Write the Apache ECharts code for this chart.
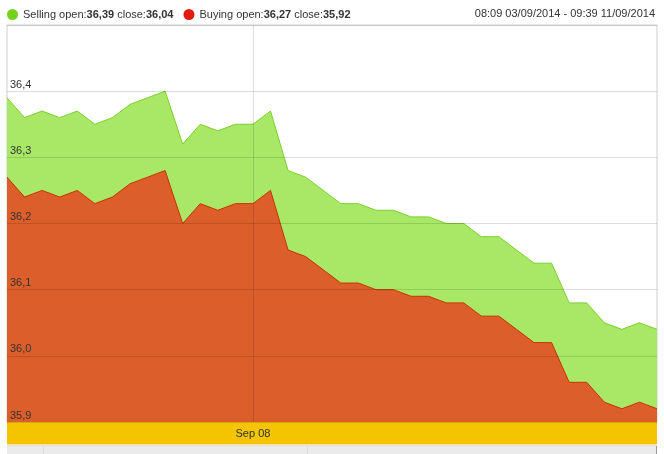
<!DOCTYPE html>
<html>
<head>
<meta charset="utf-8">
<script src="https://cdn.jsdelivr.net/npm/echarts@6/dist/echarts.min.js"></script>
<style>html,body{margin:0;padding:0;background:#fff}#c{width:664px;height:454px}</style>
</head>
<body>
<div id="c"></div>
<script>
var categories = [
 '03/09 08:09','03/09 10:00','03/09 12:00','03/09 14:00',
 '04/09 08:00','04/09 10:00','04/09 12:00','04/09 14:00','04/09 16:00',
 '05/09 08:00','05/09 10:00','05/09 12:00','05/09 14:00','05/09 16:00',
 'Sep 08','08/09 10:00','08/09 12:00','08/09 14:00','08/09 16:00','08/09 18:00',
 '09/09 08:00','09/09 10:00','09/09 12:00','09/09 14:00','09/09 16:00','09/09 18:00',
 '10/09 08:00','10/09 10:00','10/09 12:00','10/09 14:00','10/09 16:00','10/09 18:00',
 '11/09 08:00','11/09 08:30','11/09 08:45','11/09 09:00','11/09 09:20','11/09 09:39'
];
var sellingValues = [36.39,36.36,36.37,36.36,36.37,36.35,36.36,36.38,36.39,36.40,
 36.32,36.35,36.34,36.35,36.35,36.37,36.28,36.27,36.25,36.23,
 36.23,36.22,36.22,36.21,36.21,36.20,36.20,36.18,36.18,36.16,
 36.14,36.14,36.08,36.08,36.05,36.04,36.05,36.04];
var buyingValues = [36.27,36.24,36.25,36.24,36.25,36.23,36.24,36.26,36.27,36.28,
 36.20,36.23,36.22,36.23,36.23,36.25,36.16,36.15,36.13,36.11,
 36.11,36.10,36.10,36.09,36.09,36.08,36.08,36.06,36.06,36.04,
 36.02,36.02,35.96,35.96,35.93,35.92,35.93,35.92];
var yTicks = {min: 35.9, max: 36.5, interval: 0.1};
var xTickLabel = 'Sep 08';
var rangeText = '08:09 03/09/2014 - 09:39 11/09/2014';

function fmt(v){ return v.toFixed(2).replace('.', ','); }
var info = {
  'Selling': {open: sellingValues[0], close: sellingValues[sellingValues.length-1]},
  'Buying': {open: buyingValues[0], close: buyingValues[buyingValues.length-1]}
};
function showTick(i, v){ return v === xTickLabel; }

var chart = echarts.init(document.getElementById('c'), null, {renderer: 'canvas'});
var FONT = '"Liberation Sans", Arial, sans-serif';
chart.setOption({
  animation: false,
  textStyle: {fontFamily: FONT},
  title: {
    text: rangeText, right: 4, top: 3,
    textStyle: {fontSize: 11, fontWeight: 'normal', color: '#333', fontFamily: FONT}
  },
  legend: {
    left: 2, top: 4, itemGap: 10, itemWidth: 11, itemHeight: 11,
    icon: 'circle',
    data: ['Selling', 'Buying'],
    formatter: function(name){
      return name + ' open:{b|' + fmt(info[name].open) + '} close:{b|' + fmt(info[name].close) + '}';
    },
    textStyle: {
      fontSize: 11, color: '#333', fontFamily: FONT,
      rich: {b: {fontSize: 11, fontWeight: 'bold', color: '#333', fontFamily: FONT}}
    }
  },
  grid: {left: 7, right: 7, top: 25, bottom: 32, show: true, borderColor: '#cfcfcf', borderWidth: 1, backgroundColor: 'transparent'},
  xAxis: {
    type: 'category', data: categories, boundaryGap: false, z: 10,
    axisLine: {show: false}, axisTick: {show: false},
    axisLabel: {interval: showTick, color: '#333', fontSize: 11, margin: 6, fontFamily: FONT},
    splitLine: {show: true, interval: showTick, lineStyle: {color: 'rgba(0,0,0,0.13)', width: 1}}
  },
  yAxis: {
    type: 'value', min: yTicks.min, max: yTicks.max, interval: yTicks.interval, z: 10,
    axisLine: {show: false}, axisTick: {show: false},
    axisLabel: {
      inside: true, margin: 3, showMaxLabel: false, color: '#333', fontSize: 11, fontFamily: FONT,
      verticalAlign: 'bottom', padding: [0, 0, 1, 0],
      formatter: function(v){ return v.toFixed(1).replace('.', ','); }
    },
    splitLine: {show: true, lineStyle: {color: 'rgba(0,0,0,0.13)', width: 1}}
  },
  color: ['#74d21c', '#e31a0e'],
  series: [
    {
      name: 'Selling', type: 'line', data: sellingValues, symbol: 'none',
      lineStyle: {color: '#7ccf2c', width: 1},
      areaStyle: {color: '#a8e866', opacity: 1, origin: 'start'},
      z: 2
    },
    {
      name: 'Buying', type: 'line', data: buyingValues, symbol: 'none',
      lineStyle: {color: '#c93200', width: 1},
      areaStyle: {color: '#dc5e2b', opacity: 1, origin: 'start'},
      z: 3
    }
  ],
  graphic: [
    {type: 'rect', z: 0, shape: {x: 7, y: 422, width: 650, height: 22}, style: {fill: '#f5c400'}},
    {type: 'rect', z: 0, shape: {x: 7, y: 444, width: 650, height: 2}, style: {fill: '#efe3b4'}},
    {type: 'rect', z: 0, shape: {x: 7, y: 446, width: 650, height: 8}, style: {fill: '#ebebeb'}},
    {type: 'line', z: 1, shape: {x1: 43.5, y1: 446, x2: 43.5, y2: 454}, style: {stroke: '#dcdcdc', lineWidth: 1}},
    {type: 'line', z: 1, shape: {x1: 307.5, y1: 446, x2: 307.5, y2: 454}, style: {stroke: '#dcdcdc', lineWidth: 1}},
    {type: 'line', z: 1, shape: {x1: 656.5, y1: 446, x2: 656.5, y2: 454}, style: {stroke: '#999', lineWidth: 1}}
  ]
});
</script>
</body>
</html>
